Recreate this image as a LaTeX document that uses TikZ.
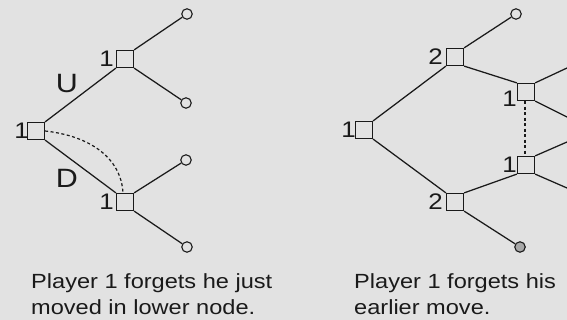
\documentclass[tikz,border=0pt]{standalone}
\usepackage{fontspec}
\setmainfont{Liberation Sans}[FakeStretch=1.15]
\usepackage{tikz}
\usetikzlibrary{positioning, calc}
\definecolor{paper}{HTML}{E2E2E2}
\definecolor{ink}{HTML}{1A1A1A}
\definecolor{leafgray}{HTML}{A8A8A8}
\tikzset{
  dec/.style={draw=ink, fill=paper, rectangle, minimum size=17pt, inner sep=0pt, line width=1.2pt},
  term/.style={draw=ink, fill=paper, circle, minimum size=10.5pt, inner sep=0pt, line width=1.1pt},
  plab/.style={inner sep=0pt, font=\fontsize{22.5}{22.5}\selectfont, text=ink},
  mv/.style={inner sep=2pt, font=\fontsize{26.5}{26.5}\selectfont, text=ink},
  capt/.style={inner sep=0pt, align=left, font=\fontsize{20.5}{26}\selectfont, text=ink},
  br/.style={draw=ink, line width=1.25pt},
  info/.style={draw=ink, line width=1.2pt, dash pattern=on 3pt off 2.5pt}
}

\begin{document}
\begin{tikzpicture}[x=1pt, y=-1pt]
\fill[paper] (0,0) rectangle (567,320);
\useasboundingbox (0,0) rectangle (567,320);
% left tree
\node[dec] (r1) at (36,131) {};
\node[dec] (u1) at (125,59) {};
\node[dec] (d1) at (125,202) {};
\node[term] (lf1) at (187,14) {};
\node[term] (lf2) at (186,103) {};
\node[term] (lf3) at (186,160) {};
\node[term] (lf4) at (187,247) {};
\node[plab, left=-2pt of r1] (pr1) {1};
\node[plab, left=2pt of u1] (pu1) {1};
\node[plab, left=2pt of d1] (pd1) {1};
\draw[br] (r1.north east) -- node[mv, midway, above left=0pt] (mU) {U} (u1.south west);
\draw[br] (r1.south east) -- node[mv, midway, below left=0pt] (mD) {D} (d1.north west);
\draw[br] (u1.north east) -- (lf1); \draw[br] (u1.south east) -- (lf2);
\draw[br] (d1.north east) -- (lf3); \draw[br] (d1.south east) -- (lf4);
\draw[info] (r1.east) .. controls ($(r1.east)+(45,5)$) and ($(d1.north)+(-4,-35)$) .. ($(d1.north)+(-2,0)$);
% right tree
\node[dec] (r2) at (364,130) {};
\node[dec] (a2) at (455,57) {};
\node[dec] (b2) at (455,202) {};
\node[dec] (c2) at (526,92) {};
\node[dec] (e2) at (526,165) {};
\node[term] (lf5) at (516,14) {};
\node[term, fill=leafgray] (lf6) at (520,247) {};
\coordinate (o1) at (567,68); \coordinate (o2) at (567,117);
\coordinate (o3) at (567,142); \coordinate (o4) at (567,188);
\node[plab, left=-1pt of r2] (pr2) {1};
\node[plab, left=3pt of a2] (pa2) {2};
\node[plab, left=3pt of b2] (pb2) {2};
\node[plab, left=0pt of c2, yshift=-7pt] (pc2) {1};
\node[plab, left=0pt of e2] (pe2) {1};
\draw[br] (r2.north east) -- (a2.south west); \draw[br] (r2.south east) -- (b2.north west);
\draw[br] (a2.north east) -- (lf5); \draw[br] (a2.south east) -- (c2.north west);
\draw[br] (b2.north east) -- (e2.south west); \draw[br] (b2.south east) -- (lf6);
\draw[br] (c2.north east) -- (o1); \draw[br] (c2.south east) -- (o2);
\draw[br] (e2.north east) -- (o3); \draw[br] (e2.south east) -- (o4);
\draw[info] ($(c2.south)+(-1,0)$) -- ($(e2.north)+(-1,0)$);
% captions
\node[capt, anchor=west] (txl) at (31,294.5) {Player 1 forgets he just\\moved in lower node.};
\node[capt, anchor=west] (txr) at (354,294.5) {Player 1 forgets his\\earlier move.};
\end{tikzpicture}
\end{document}
